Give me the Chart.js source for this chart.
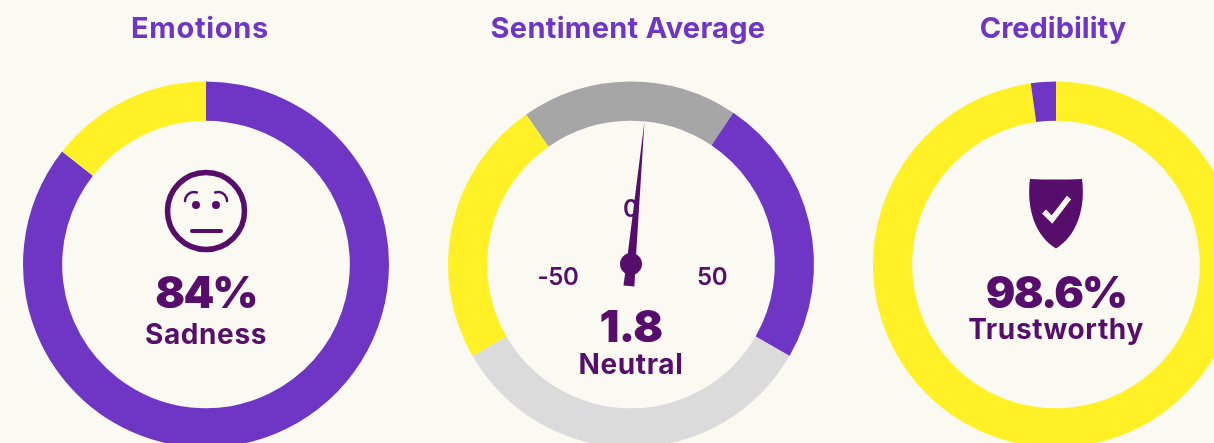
<!DOCTYPE html>
<html>
<head>
<meta charset="utf-8">
<title>Gauges</title>
<script src="https://cdn.jsdelivr.net/npm/chart.js@4"></script>
<style>
    html, body { margin: 0; padding: 0; width: 1214px; height: 443px; overflow: hidden; background: #faf9f2; }
    canvas { position: absolute; top: 0; }
</style>
</head>
<body>
<canvas id="emotionsChart" width="426" height="448" style="left:-7px"></canvas>
<canvas id="sentimentChart" width="426" height="448" style="left:418px"></canvas>
<canvas id="credibilityChart" width="426" height="448" style="left:843px"></canvas>
<script>
const chartTitles = ['Emotions', 'Sentiment Average', 'Credibility'];

const emotionValues = [85.6, 14.4];
const emotionLabels = ['Sadness', 'Other'];

// gauge segments, in degrees round the dial
const sentimentSegments = [69, 86, 120, 85];
const sentimentLabels = ['Neutral', 'Positive', 'Unknown', 'Negative'];
const sentimentTicks = ['-50', '0', '50'];
const sentimentValue = 1.8;

const credibilityValues = [97.8, 2.2];
const credibilityLabels = ['Trustworthy', 'Other'];

const purple = '#6f36c5';
const yellow = '#fff126';
const dark = '#570d6b';
const fontFamily = 'Inter, sans-serif';

function centerText(ctx, text, x, y, size, weight, spacing, color) {
    ctx.font = `${weight} ${size}px ${fontFamily}`;
    ctx.letterSpacing = spacing + 'px';
    ctx.fillStyle = color || dark;
    ctx.textAlign = 'center';
    ctx.textBaseline = 'middle';
    ctx.fillText(text, x, y);
    ctx.letterSpacing = '0px';
}

function chartCenter(chart) {
    const arc = chart.getDatasetMeta(0).data[0];
    return { x: arc.x, y: arc.y };
}

// titles aren't quite centred over the rings in the original, so no title plugin here
function titlePlugin(text, dx, spacing) {
    return {
        id: 'ringTitle',
        afterDraw(chart) {
            const ctx = chart.ctx;
            ctx.save();
            centerText(ctx, text, chartCenter(chart).x + dx, 29, 29, 700, spacing, purple);
            ctx.restore();
        }
    };
}

const facePlugin = {
    id: 'face',
    afterDraw(chart) {
        const ctx = chart.ctx;
        const { x, y } = chartCenter(chart);
        ctx.save();
        ctx.strokeStyle = dark;
        ctx.fillStyle = dark;
        ctx.lineCap = 'round';
        ctx.lineWidth = 5.5;
        ctx.beginPath();
        ctx.arc(x, y - 53.5, 38.5, 0, Math.PI * 2);
        ctx.stroke();
        ctx.lineWidth = 2.5;
        ctx.beginPath();
        ctx.arc(x - 12, y - 63.5, 9, Math.PI * 1.0, Math.PI * 1.6);
        ctx.stroke();
        ctx.beginPath();
        ctx.arc(x + 12, y - 63.5, 9, Math.PI * 1.4, Math.PI * 2.0);
        ctx.stroke();
        ctx.beginPath();
        ctx.arc(x - 10, y - 59.5, 4, 0, Math.PI * 2);
        ctx.arc(x + 10, y - 59.5, 4, 0, Math.PI * 2);
        ctx.fill();
        ctx.lineWidth = 4;
        ctx.beginPath();
        ctx.moveTo(x - 14, y - 33.5);
        ctx.lineTo(x + 15, y - 33.5);
        ctx.stroke();
        centerText(ctx, '84%', x, y + 30.5, 44, 900, -1.8);
        centerText(ctx, emotionLabels[0], x, y + 71.5, 28, 700, 0.6);
        ctx.restore();
    }
};

const needlePlugin = {
    id: 'needle',
    afterDraw(chart) {
        const ctx = chart.ctx;
        const { x, y } = chartCenter(chart);
        ctx.save();
        centerText(ctx, sentimentTicks[0], x - 73, y + 13.5, 24, 600, -0.4);
        centerText(ctx, sentimentTicks[1], x, y - 54.5, 24, 600, 0);
        centerText(ctx, sentimentTicks[2], x + 81, y + 13.5, 24, 600, -0.4);
        ctx.translate(x, y - 0.5);
        ctx.rotate(sentimentValue * 3 * Math.PI / 180);
        ctx.fillStyle = dark;
        ctx.beginPath();
        ctx.moveTo(0, -143);
        ctx.lineTo(4.5, 0);
        ctx.lineTo(5.5, 22);
        ctx.lineTo(-5.5, 22);
        ctx.lineTo(-4.5, 0);
        ctx.closePath();
        ctx.fill();
        ctx.rotate(-sentimentValue * 3 * Math.PI / 180);
        ctx.beginPath();
        ctx.arc(0, 0, 11, 0, Math.PI * 2);
        ctx.fill();
        ctx.restore();
        ctx.save();
        centerText(ctx, String(sentimentValue), x, y + 64.5, 44, 900, -0.5);
        centerText(ctx, sentimentLabels[0], x, y + 101.5, 28, 700, 0.6);
        ctx.restore();
    }
};

const shieldPlugin = {
    id: 'shield',
    afterDraw(chart) {
        const ctx = chart.ctx;
        const { x, y } = chartCenter(chart);
        ctx.save();
        ctx.fillStyle = dark;
        ctx.beginPath();
        ctx.moveTo(x - 26, y - 85.5);
        ctx.quadraticCurveTo(x, y - 84.5, x + 26, y - 85.5);
        ctx.bezierCurveTo(x + 30, y - 55, x + 20, y - 28, x, y - 16);
        ctx.bezierCurveTo(x - 20, y - 28, x - 30, y - 55, x - 26, y - 85.5);
        ctx.fill();
        ctx.strokeStyle = '#faf9f2';
        ctx.lineWidth = 5.5;
        ctx.beginPath();
        ctx.moveTo(x - 12, y - 53);
        ctx.lineTo(x - 4, y - 45);
        ctx.lineTo(x + 13, y - 67);
        ctx.stroke();
        centerText(ctx, '98.6%', x, y + 30.5, 44, 900, -1.8);
        centerText(ctx, credibilityLabels[0], x, y + 66.5, 28, 700, 0.6);
        ctx.restore();
    }
};

function makeDoughnut(id, labels, values, colors, rotation, plugins) {
    return new Chart(document.getElementById(id).getContext('2d'), {
        type: 'doughnut',
        data: {
            labels: labels,
            datasets: [{ data: values, backgroundColor: colors, borderWidth: 0 }]
        },
        options: {
            responsive: false,
            animation: false,
            cutout: '78.6%',
            rotation: rotation,
            layout: { padding: { left: 30, right: 30, top: 81, bottom: 0 } },
            plugins: {
                legend: { display: false },
                tooltip: { enabled: false }
            }
        },
        plugins: plugins
    });
}

makeDoughnut('emotionsChart', emotionLabels, emotionValues, [purple, yellow], 0,
    [titlePlugin(chartTitles[0], -6, 0.7), facePlugin]);
makeDoughnut('sentimentChart', sentimentLabels, sentimentSegments, ['#a6a6a6', purple, '#dbdbdb', yellow], -35,
    [titlePlugin(chartTitles[1], -3, 0.3), needlePlugin]);
makeDoughnut('credibilityChart', credibilityLabels, credibilityValues, [yellow, purple], 0,
    [titlePlugin(chartTitles[2], -3, 0), shieldPlugin]);
</script>
</body>
</html>
